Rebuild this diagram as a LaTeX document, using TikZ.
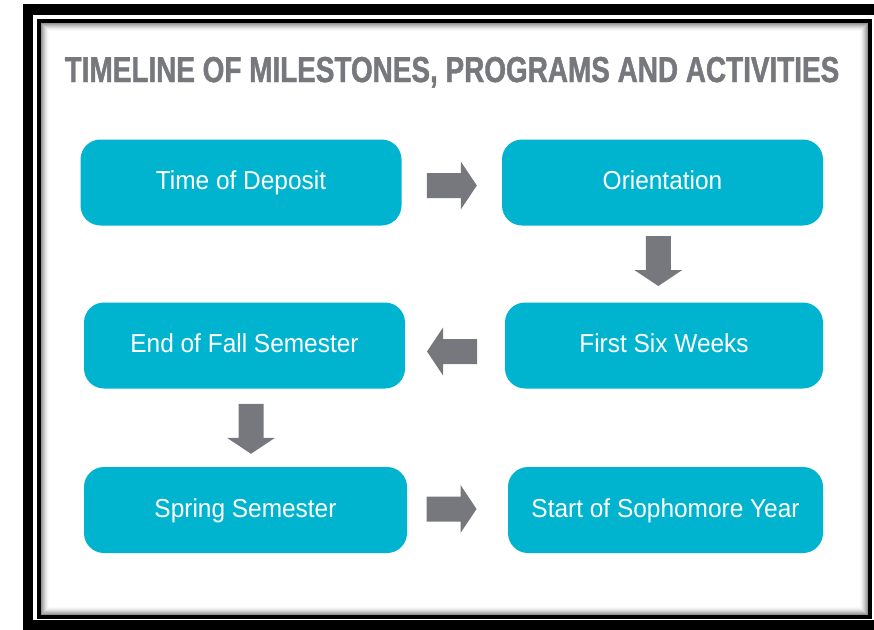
\documentclass[tikz,border=0pt]{standalone}
\usepackage{fontspec}
\setmainfont{Liberation Sans}
\newfontfamily\boxfont[FakeStretch=0.94]{Liberation Sans}
\newfontfamily\titlefont[FakeStretch=0.775,FakeBold=1.2]{Liberation Sans}
\usetikzlibrary{calc}

\definecolor{stepcyan}{HTML}{00B4D0}
\definecolor{arrowgray}{HTML}{76787D}

\tikzset{
  milestone/.style={fill=stepcyan, rounded corners=20pt, minimum width=321pt,
    minimum height=86pt, inner sep=0pt, text=white,
    font=\boxfont\fontsize{26}{26}\selectfont, text height=18.6pt, text depth=4pt},
  blockarrow/.pic={\fill[arrowgray] (-25,-12.5) -- (9,-12.5) -- (9,-24) -- (25,0)
    -- (9,24) -- (9,12.5) -- (-25,12.5) -- cycle;}
}

\begin{document}
\begin{tikzpicture}[x=1pt,y=-1pt]
    \useasboundingbox (0,0) rectangle (874,629);
    \fill[white] (0,0) rectangle (874,629);
    % double frame
    \fill[black] (23,4) rectangle (890,640);
    \fill[white] (33,15) rectangle (876,620);
    \draw[line width=4pt] (39,20.5) rectangle (869.5,616.5);
    % inner shadow
    \foreach \i/\s in {1/42,2/34,3/27,4/20,5/14,6/9,7/5,8/2}
        \draw[black!\s, line width=1pt] (40.5+\i,22+\i) rectangle (868-\i,615-\i);

    \node[text=arrowgray, font=\titlefont\bfseries\fontsize{36}{36}\selectfont, anchor=base]
        (title) at (452,82) {TIMELINE OF MILESTONES, PROGRAMS AND ACTIVITIES};

    \node[milestone] (deposit) at (241,182.5) {Time of Deposit};
    \node[milestone] (orient) at (662.5,182.5) {Orientation};
    \node[milestone] (fall) at (244.5,345.5) {End of Fall Semester};
    \node[milestone, minimum width=318pt] (sixweeks) at (664,345.5) {First Six Weeks};
    \node[milestone, minimum width=323pt] (spring) at (245.5,510) {Spring Semester};
    \node[milestone, minimum width=315pt] (sophomore) at (665.5,510) {Start of Sophomore Year};

    \path ($(deposit.east)!0.5!(orient.west)+(0,3)$) pic {blockarrow};
    \path ($(orient.south)!0.5!(sixweeks.north)+(-5,-3)$) pic[rotate=-90] {blockarrow};
    \path ($(fall.east)!0.5!(sixweeks.west)+(-3,6)$) pic[rotate=180] {blockarrow};
    \path ($(fall.south)!0.5!(spring.north)+(6,1)$) pic[rotate=-90] {blockarrow};
    \path ($(spring.east)!0.5!(sophomore.west)+(-6,-1)$) pic {blockarrow};
\end{tikzpicture}
\end{document}
